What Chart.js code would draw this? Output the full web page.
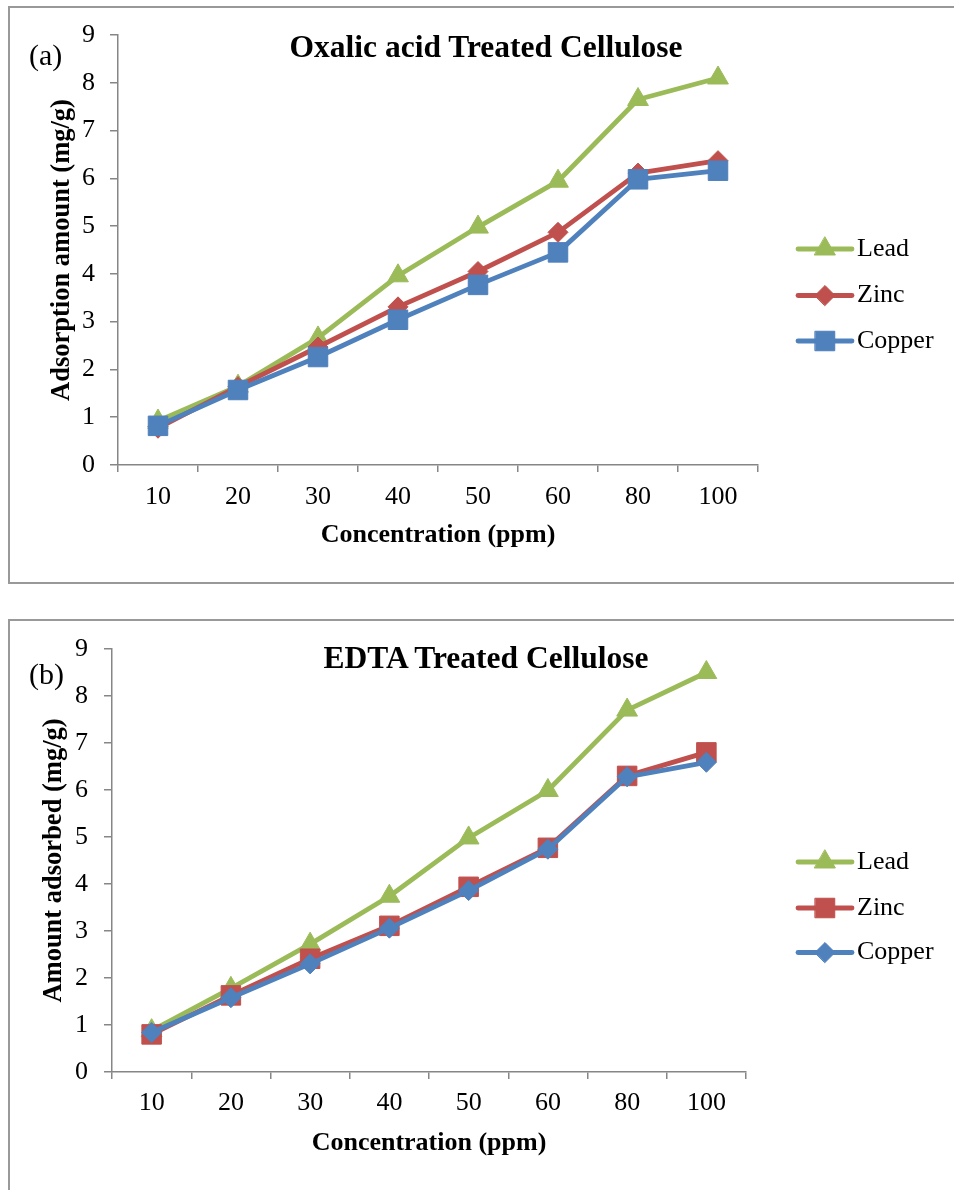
<!DOCTYPE html>
<html>
<head>
<meta charset="utf-8">
<script src="https://cdn.jsdelivr.net/npm/chart.js@4.4.1/dist/chart.umd.min.js"></script>
<style>
html,body{margin:0;padding:0;background:#fff;width:954px;height:1190px;overflow:hidden;position:relative;font-family:"Liberation Serif","Times New Roman",serif;}
.frame{position:absolute;border:2px solid #999;box-sizing:border-box;}
.panel{position:absolute;left:0;width:954px;height:590px;}
.title{position:absolute;font-weight:bold;font-size:31.5px;line-height:31.5px;white-space:nowrap;transform:translateX(-50%);color:#000;}
.tag{position:absolute;font-size:30px;line-height:30px;white-space:nowrap;color:#000;}
</style>
</head>
<body>
<div class="frame" style="left:8px;top:6px;width:960px;height:578px"></div>
<div class="frame" style="left:8px;top:619px;width:960px;height:620px"></div>
<div class="panel" style="top:0"><canvas id="chartA" width="954" height="590"></canvas></div>
<div class="panel" style="top:600px"><canvas id="chartB" width="954" height="590"></canvas></div>
<div class="title" style="left:486px;top:31px">Oxalic acid Treated Cellulose</div>
<div class="tag" style="left:29px;top:40px">(a)</div>
<div class="title" style="left:486px;top:642px">EDTA Treated Cellulose</div>
<div class="tag" style="left:29px;top:659px">(b)</div>
<script>
// ---- data ----
const categories = ['10', '20', '30', '40', '50', '60', '80', '100'];
const yTickValues = [0, 1, 2, 3, 4, 5, 6, 7, 8, 9];
const seriesNames = ['Lead', 'Zinc', 'Copper'];

const oxalicLead   = [0.92, 1.65, 2.66, 3.96, 4.98, 5.94, 7.65, 8.10];
const oxalicZinc   = [0.77, 1.64, 2.47, 3.31, 4.05, 4.87, 6.11, 6.37];
const oxalicCopper = [0.82, 1.57, 2.26, 3.04, 3.77, 4.45, 5.98, 6.16];

const edtaLead   = [0.88, 1.78, 2.72, 3.74, 4.98, 5.99, 7.70, 8.50];
const edtaZinc   = [0.80, 1.63, 2.41, 3.11, 3.94, 4.77, 6.30, 6.80];
const edtaCopper = [0.84, 1.58, 2.30, 3.06, 3.86, 4.74, 6.28, 6.59];

// ---- styles ----
const GREEN = '#9BBB59', RED = '#C0504D', BLUE = '#4F81BD';
const AXIS = '#868686';
const FONT = '"Liberation Serif", "Times New Roman", serif';

const markerStyles = {
  triangle: { pointStyle: 'triangle', radius: 12 },
  diamond:  { pointStyle: 'rectRot', radius: 10 },
  square:   { pointStyle: 'rect', radius: 13.8 }
};

function makeDataset(label, data, color, marker, order) {
  const m = markerStyles[marker];
  return {
    label: label,
    data: data,
    borderColor: color,
    backgroundColor: color,
    pointBackgroundColor: color,
    pointBorderColor: color,
    pointStyle: m.pointStyle,
    pointRadius: m.radius,
    pointHoverRadius: m.radius,
    pointBorderWidth: 1,
    borderWidth: 4.8,
    borderJoinStyle: 'round',
    borderCapStyle: 'round',
    tension: 0,
    fill: false,
    order: order,
    clip: false
  };
}

const customLegend = {
  id: 'customLegend',
  afterDraw(chart, args, opts) {
    const ctx = chart.ctx;
    ctx.save();
    chart.data.datasets.forEach((ds, i) => {
      const y = opts.ys[i];
      ctx.strokeStyle = ds.borderColor;
      ctx.lineWidth = ds.borderWidth;
      ctx.lineCap = 'round';
      ctx.beginPath();
      ctx.moveTo(opts.x1, y);
      ctx.lineTo(opts.x2, y);
      ctx.stroke();
      ctx.fillStyle = ds.pointBackgroundColor;
      ctx.strokeStyle = ds.pointBorderColor;
      ctx.lineWidth = ds.pointBorderWidth;
      Chart.helpers.drawPoint(ctx, {
        pointStyle: ds.pointStyle, radius: ds.pointRadius, rotation: 0, borderWidth: ds.pointBorderWidth
      }, (opts.x1 + opts.x2) / 2, y);
      ctx.fillStyle = '#000';
      ctx.font = '26px ' + FONT;
      ctx.textBaseline = 'middle';
      ctx.textAlign = 'left';
      ctx.fillText(ds.label, opts.textX, y);
    });
    ctx.restore();
  }
};

function makeChart(id, datasets, yTitle, P) {
  return new Chart(document.getElementById(id), {
    type: 'line',
    data: { labels: categories, datasets: datasets },
    plugins: [customLegend],
    options: {
      responsive: false,
      animation: false,
      devicePixelRatio: 1,
      layout: { padding: { top: P.top, left: 0, right: P.right, bottom: 0 } },
      plugins: {
        legend: { display: false },
        tooltip: { enabled: false },
        title: { display: false },
        customLegend: { x1: 798, x2: 852, textX: 857, ys: P.legendYs }
      },
      scales: {
        x: {
          type: 'category',
          offset: true,
          grid: { offset: true, drawOnChartArea: false, drawTicks: true, tickLength: 7, color: AXIS, lineWidth: 1.5 },
          border: { display: true, color: AXIS, width: 1.5 },
          ticks: { font: { family: FONT, size: 26 }, color: '#000', padding: P.xTickPad, maxRotation: 0, autoSkip: false },
          title: { display: true, text: 'Concentration (ppm)', color: '#000',
                   font: { family: FONT, size: 26, weight: 'bold' }, padding: { top: 0, bottom: P.xTitlePad } },
          afterFit(s) { s.height = P.xH; }
        },
        y: {
          min: yTickValues[0],
          max: yTickValues[yTickValues.length - 1],
          ticks: { stepSize: 1, font: { family: FONT, size: 26 }, color: '#000', padding: P.yTickPad },
          grid: { drawOnChartArea: false, drawTicks: true, tickLength: 8, color: AXIS, lineWidth: 1.5 },
          border: { display: true, color: AXIS, width: 1.5 },
          title: { display: true, text: yTitle, color: '#000',
                   font: { family: FONT, size: 26.5, weight: 'bold' }, padding: { top: P.yTitlePad, bottom: 0 } },
          afterFit(s) { s.width = P.yW; }
        }
      }
    }
  });
}

makeChart('chartA', [
  makeDataset(seriesNames[0], oxalicLead, GREEN, 'triangle', 2),
  makeDataset(seriesNames[1], oxalicZinc, RED, 'diamond', 1),
  makeDataset(seriesNames[2], oxalicCopper, BLUE, 'square', 0)
], 'Adsorption amount (mg/g)', {
  top: 35, right: 196, yW: 118, xH: 125, xTickPad: 10, xTitlePad: 39, yTickPad: 15, yTitlePad: 46,
  legendYs: [249, 295.5, 341]
});

makeChart('chartB', [
  makeDataset(seriesNames[0], edtaLead, GREEN, 'triangle', 2),
  makeDataset(seriesNames[1], edtaZinc, RED, 'square', 1),
  makeDataset(seriesNames[2], edtaCopper, BLUE, 'diamond', 0)
], 'Amount adsorbed (mg/g)', {
  top: 49, right: 208, yW: 112, xH: 118, xTickPad: 9, xTitlePad: 31, yTickPad: 16, yTitlePad: 38,
  legendYs: [262, 308, 352.5]
});
</script>
</body>
</html>
